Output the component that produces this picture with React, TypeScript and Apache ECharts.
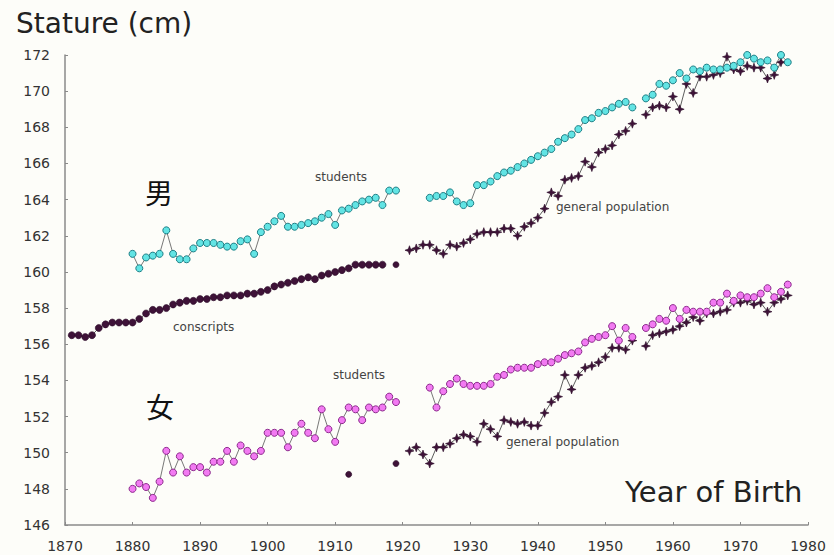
import React, { useEffect, useRef } from "react";
import * as echarts from "echarts";

// ---------- data ----------
const X_MIN = 1870;
const X_MAX = 1980;
const Y_MIN = 146;
const Y_MAX = 172;

// Male, students (cyan)
const maleStudentsStartA = 1880;
const maleStudentsA = [
  161.0, 160.2, 160.8, 160.9, 161.0, 162.3, 161.0, 160.7, 160.7, 161.3,
  161.6, 161.6, 161.6, 161.5, 161.4, 161.4, 161.7, 161.8, 161.0, 162.2,
  162.5, 162.8, 163.1, 162.5, 162.5, 162.6, 162.7, 162.8, 163.0, 163.2,
  162.6, 163.4, 163.5, 163.7, 163.9, 164.0, 164.1, 163.7, 164.5, 164.5,
];
const maleStudentsStartB = 1924;
const maleStudentsB = [
  164.1, 164.2, 164.2, 164.4, 163.9, 163.7, 163.8, 164.8, 164.8, 165.0,
  165.3, 165.5, 165.6, 165.8, 166.0, 166.2, 166.4, 166.6, 166.8, 167.2,
  167.4, 167.6, 167.9, 168.4, 168.5, 168.8, 168.9, 169.1, 169.3, 169.4,
  169.1, null, 169.6, 169.8, 170.4, 170.3, 170.6, 171.0, 170.7, 171.2,
  171.1, 171.3, 171.2, 171.2, 171.3, 171.4, 171.6, 172.0, 171.8, 171.6,
  171.7, 171.3, 172.0, 171.6,
];

// Male, conscripts
const conscriptsStart = 1871;
const conscripts = [
  156.5, 156.5, 156.4, 156.5, 156.9, 157.1, 157.2, 157.2, 157.2, 157.2,
  157.4, 157.7, 157.9, 157.9, 158.0, 158.2, 158.3, 158.4, 158.4, 158.5,
  158.5, 158.6, 158.6, 158.7, 158.7, 158.7, 158.8, 158.8, 158.9, 159.0,
  159.2, 159.3, 159.4, 159.5, 159.6, 159.7, 159.6, 159.8, 159.9, 160.0,
  160.1, 160.2, 160.4, 160.4, 160.4, 160.4, 160.4,
];

// Male, general population
const maleGeneralEarlyYears = [1919];
const maleGeneralEarly = [160.4];
const maleGeneralStart = 1921;
const maleGeneral = [
  161.2, 161.3, 161.5, 161.5, 161.2, 161.0, 161.5, 161.4, 161.6, 161.8,
  162.1, 162.2, 162.2, 162.2, 162.4, 162.4, 162.0, 162.5, 162.7, 163.0,
  163.5, 164.4, 164.2, 165.1, 165.2, 165.3, 166.1, 165.8, 166.6, 166.8,
  167.0, 167.6, 167.8, 168.2, null, 168.7, 169.1, 169.2, 169.1, 169.7,
  169.0, 170.4, 169.9, 170.8, 170.8, 170.9, 171.0, 171.9, 171.2, 171.1,
  171.4, 171.3, 171.3, 170.7, 170.9, 171.6,
];

// Female, students (magenta)
const femaleStudentsStartA = 1880;
const femaleStudentsA = [
  148.0, 148.3, 148.1, 147.5, 148.4, 150.1, 148.9, 149.8, 148.9, 149.2,
  149.2, 148.9, 149.5, 149.5, 150.1, 149.5, 150.4, 150.1, 149.8, 150.1,
  151.1, 151.1, 151.1, 150.3, 151.1, 151.6, 151.1, 150.8, 152.4, 151.3,
  150.6, 151.8, 152.5, 152.4, 151.8, 152.5, 152.4, 152.5, 153.1, 152.8,
];
const femaleStudentsStartB = 1924;
const femaleStudentsB = [
  153.6, 152.5, 153.4, 153.8, 154.1, 153.8, 153.7, 153.7, 153.7, 153.8,
  154.2, 154.3, 154.6, 154.7, 154.7, 154.7, 154.9, 155.0, 155.0, 155.2,
  155.4, 155.5, 155.6, 156.1, 156.3, 156.4, 156.5, 157.0, 156.2, 156.9,
  156.4, null, 156.9, 157.1, 157.4, 157.3, 158.0, 157.4, 157.9, 157.8,
  157.8, 157.8, 158.3, 158.3, 158.8, 158.4, 158.7, 158.6, 158.6, 158.8,
  159.1, 158.6, 158.9, 159.3,
];

// Female, general population
const femaleGeneralEarlyYears = [1912, 1919];
const femaleGeneralEarly = [148.8, 149.4];
const femaleGeneralStart = 1921;
const femaleGeneral = [
  150.1, 150.3, 149.9, 149.4, 150.3, 150.3, 150.5, 150.8, 151.0, 150.9,
  150.6, 151.6, 151.3, 150.9, 151.8, 151.7, 151.6, 151.7, 151.5, 151.5,
  152.2, 152.8, 153.1, 154.3, 153.5, 154.3, 154.7, 154.8, 155.0, 155.3,
  155.8, 155.8, 155.7, 156.2, null, 155.9, 156.5, 156.6, 156.7, 156.8,
  157.0, 157.2, 157.5, 157.3, 157.7, 157.7, 157.8, 157.9, 158.3, 158.3,
  158.4, 158.2, 158.3, 157.8, 158.3, 158.5, 158.7,
];

// ---------- helpers ----------
function pairs(start: number, vals: (number | null)[]) {
  return vals.map((v, i) => [start + i, v === null ? "-" : v]);
}
function joinSegments(a: any[], b: any[]) {
  const gapYear = (a[a.length - 1][0] + b[0][0]) / 2;
  return [...a, [gapYear, "-"], ...b];
}
function pointsOf(years: number[], vals: number[]) {
  return years.map((y, i) => [y, vals[i]]);
}

const CYAN = "#62e4e4";
const CYAN_EDGE = "#1f7f86";
const MAGENTA = "#f27af2";
const MAGENTA_EDGE = "#8c2a8c";
const DARK = "#3e1238";
const LINE = "#555";
const FONT = "DejaVu Sans";
// four-pointed star-like cross used for the general-population marks
const CROSS =
  "path://M5,0 L6.3,3.7 L10,5 L6.3,6.3 L5,10 L3.7,6.3 L0,5 L3.7,3.7 Z";

export default function App() {
  const ref = useRef<HTMLDivElement>(null);

  useEffect(() => {
    if (!ref.current) return;
    const chart = echarts.init(ref.current, undefined, { renderer: "svg" });

    const studentStyle = (fill: string, edge: string) => ({
      type: "line" as const,
      symbol: "circle",
      symbolSize: 7,
      connectNulls: false,
      lineStyle: { color: LINE, width: 0.8 },
      itemStyle: { color: fill, borderColor: edge, borderWidth: 1 },
      z: 3,
    });
    const darkStyle = (sym: string, size: number) => ({
      type: "line" as const,
      symbol: sym,
      symbolSize: size,
      connectNulls: false,
      lineStyle: { color: "#333", width: 0.8 },
      itemStyle: { color: DARK, borderColor: "#2a0a26", borderWidth: 0.6 },
      z: 2,
    });

    const option: any = {
      animation: false,
      backgroundColor: "#fdfdf9",
      grid: { left: 65, right: 26, top: 55, bottom: 30, containLabel: false },
      xAxis: {
        type: "value",
        min: X_MIN,
        max: X_MAX,
        interval: 10,
        axisLine: { show: true, lineStyle: { color: "#8a8a8a", width: 1.5 } },
        axisTick: { show: true, inside: true, length: 3, lineStyle: { color: "#8a8a8a" } },
        splitLine: { show: false },
        axisLabel: {
          color: "#333",
          fontFamily: FONT,
          fontSize: 14,
          margin: 14,
          formatter: (v: number) => String(v),
        },
      },
      yAxis: {
        type: "value",
        min: Y_MIN,
        max: Y_MAX,
        interval: 2,
        axisLine: { show: true, lineStyle: { color: "#8a8a8a", width: 1.5 } },
        axisTick: { show: true, inside: true, length: 3, lineStyle: { color: "#8a8a8a" } },
        splitLine: { show: false },
        axisLabel: { color: "#333", fontFamily: FONT, fontSize: 14, margin: 15 },
      },
      series: [
        {
          name: "male students",
          ...studentStyle(CYAN, CYAN_EDGE),
          data: joinSegments(
            pairs(maleStudentsStartA, maleStudentsA),
            pairs(maleStudentsStartB, maleStudentsB)
          ),
        },
        {
          name: "conscripts",
          ...darkStyle("circle", 7),
          data: pairs(conscriptsStart, conscripts),
        },
        {
          name: "male general population (early)",
          ...darkStyle("circle", 6),
          data: pointsOf(maleGeneralEarlyYears, maleGeneralEarly),
        },
        {
          name: "male general population",
          ...darkStyle(CROSS, 9),
          data: pairs(maleGeneralStart, maleGeneral),
        },
        {
          name: "female students",
          ...studentStyle(MAGENTA, MAGENTA_EDGE),
          data: joinSegments(
            pairs(femaleStudentsStartA, femaleStudentsA),
            pairs(femaleStudentsStartB, femaleStudentsB)
          ),
        },
        {
          name: "female general population (early)",
          ...darkStyle("circle", 6),
          lineStyle: { width: 0 },
          data: pointsOf(femaleGeneralEarlyYears, femaleGeneralEarly),
        },
        {
          name: "female general population",
          ...darkStyle(CROSS, 9),
          data: pairs(femaleGeneralStart, femaleGeneral),
        },
      ],
      graphic: [
        {
          type: "text",
          left: 16,
          top: 9,
          style: { text: "Stature (cm)", font: "28px 'DejaVu Sans'", fill: "#222" },
        },
        {
          type: "text",
          left: 625,
          top: 477,
          style: { text: "Year of Birth", font: "29px 'DejaVu Sans'", fill: "#222" },
        },
        {
          type: "text",
          left: 145,
          top: 178,
          style: { text: "男", font: "28px 'Noto Sans CJK JP'", fill: "#111" },
        },
        {
          type: "text",
          left: 146,
          top: 392,
          style: { text: "女", font: "28px 'Noto Sans CJK JP'", fill: "#111" },
        },
        {
          type: "text",
          left: 315,
          top: 171,
          style: { text: "students", font: "12px 'DejaVu Sans'", fill: "#444" },
        },
        {
          type: "text",
          left: 556,
          top: 201,
          style: { text: "general population", font: "12px 'DejaVu Sans'", fill: "#444" },
        },
        {
          type: "text",
          left: 173,
          top: 321,
          style: { text: "conscripts", font: "12px 'DejaVu Sans'", fill: "#444" },
        },
        {
          type: "text",
          left: 333,
          top: 369,
          style: { text: "students", font: "12px 'DejaVu Sans'", fill: "#444" },
        },
        {
          type: "text",
          left: 506,
          top: 436,
          style: { text: "general population", font: "12px 'DejaVu Sans'", fill: "#444" },
        },
      ],
    };

    chart.setOption(option);
    return () => chart.dispose();
  }, []);

  return (
    <div
      ref={ref}
      style={{ position: "fixed", left: 0, top: 0, width: 834, height: 555 }}
    />
  );
}
